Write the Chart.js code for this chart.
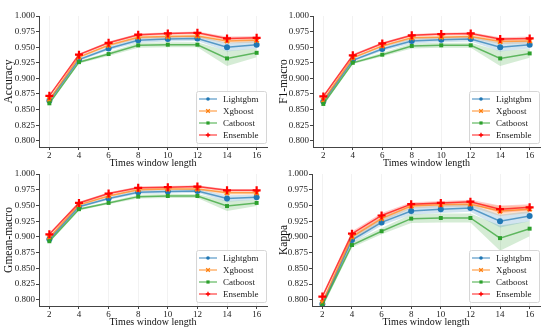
<!DOCTYPE html>
<html>
<head>
<meta charset="utf-8">
<script src="https://cdn.jsdelivr.net/npm/chart.js@4.4.1/dist/chart.umd.min.js"></script>
<style>
    body { margin: 0; background: #fff; }
    #wrap { position: relative; width: 550px; height: 331px; overflow: hidden; }
    canvas { position: absolute; }
</style>
</head>
<body>
<div id="wrap">
    <canvas id="accChart" width="275" height="169" style="left:0;top:0"></canvas>
    <canvas id="f1Chart" width="275" height="169" style="left:275px;top:0"></canvas>
    <canvas id="gmChart" width="275" height="166" style="left:0;top:165px"></canvas>
    <canvas id="kpChart" width="275" height="166" style="left:275px;top:165px"></canvas>
</div>
<script>
const windowLengths = [2, 4, 6, 8, 10, 12, 14, 16];
const modelNames = ["Lightgbm", "Xgboost", "Catboost", "Ensemble"];
const yTickValues = [0.800, 0.825, 0.850, 0.875, 0.900, 0.925, 0.950, 0.975, 1.000];

// Accuracy
const accLightgbm = [0.864, 0.930, 0.948, 0.961, 0.963, 0.964, 0.950, 0.954];
const accXgboost  = [0.866, 0.934, 0.953, 0.966, 0.967, 0.968, 0.960, 0.961];
const accCatboost = [0.860, 0.926, 0.939, 0.953, 0.954, 0.954, 0.932, 0.941];
const accEnsemble = [0.872, 0.938, 0.957, 0.970, 0.972, 0.973, 0.964, 0.965];
const accLightgbmCi = [0.002, 0.002, 0.003, 0.004, 0.004, 0.004, 0.007, 0.006];
const accXgboostCi  = [0.002, 0.002, 0.002, 0.003, 0.003, 0.003, 0.004, 0.004];
const accCatboostCi = [0.002, 0.002, 0.003, 0.004, 0.004, 0.004, 0.012, 0.007];
const accEnsembleCi = [0.002, 0.002, 0.002, 0.002, 0.002, 0.002, 0.003, 0.003];

// F1-macro
const f1Lightgbm = [0.863, 0.929, 0.947, 0.960, 0.962, 0.963, 0.950, 0.954];
const f1Xgboost  = [0.865, 0.933, 0.952, 0.965, 0.966, 0.967, 0.959, 0.960];
const f1Catboost = [0.859, 0.925, 0.938, 0.952, 0.953, 0.953, 0.932, 0.940];
const f1Ensemble = [0.871, 0.937, 0.956, 0.969, 0.971, 0.972, 0.963, 0.964];
const f1LightgbmCi = [0.002, 0.002, 0.003, 0.004, 0.004, 0.004, 0.007, 0.006];
const f1XgboostCi  = [0.002, 0.002, 0.002, 0.003, 0.003, 0.003, 0.004, 0.004];
const f1CatboostCi = [0.002, 0.002, 0.003, 0.004, 0.004, 0.004, 0.012, 0.007];
const f1EnsembleCi = [0.002, 0.002, 0.002, 0.002, 0.002, 0.002, 0.003, 0.003];

// Gmean-macro
const gmLightgbm = [0.896, 0.948, 0.961, 0.971, 0.972, 0.973, 0.961, 0.963];
const gmXgboost  = [0.899, 0.951, 0.965, 0.975, 0.976, 0.976, 0.970, 0.970];
const gmCatboost = [0.893, 0.944, 0.954, 0.964, 0.965, 0.965, 0.949, 0.954];
const gmEnsemble = [0.904, 0.954, 0.969, 0.978, 0.979, 0.980, 0.974, 0.974];
const gmLightgbmCi = [0.002, 0.002, 0.002, 0.003, 0.003, 0.003, 0.005, 0.004];
const gmXgboostCi  = [0.002, 0.002, 0.002, 0.002, 0.002, 0.002, 0.003, 0.003];
const gmCatboostCi = [0.002, 0.002, 0.002, 0.003, 0.003, 0.003, 0.008, 0.005];
const gmEnsembleCi = [0.002, 0.002, 0.002, 0.002, 0.002, 0.002, 0.002, 0.002];

// Kappa
const kpLightgbm = [0.793, 0.895, 0.923, 0.941, 0.944, 0.946, 0.925, 0.933];
const kpXgboost  = [0.796, 0.900, 0.929, 0.949, 0.951, 0.952, 0.941, 0.944];
const kpCatboost = [0.791, 0.887, 0.909, 0.929, 0.930, 0.930, 0.898, 0.913];
const kpEnsemble = [0.805, 0.905, 0.934, 0.952, 0.954, 0.956, 0.944, 0.947];
const kpLightgbmCi = [0.004, 0.005, 0.005, 0.006, 0.006, 0.006, 0.010, 0.008];
const kpXgboostCi  = [0.004, 0.005, 0.005, 0.004, 0.004, 0.004, 0.008, 0.006];
const kpCatboostCi = [0.004, 0.004, 0.005, 0.007, 0.007, 0.007, 0.020, 0.012];
const kpEnsembleCi = [0.003, 0.004, 0.004, 0.003, 0.003, 0.003, 0.006, 0.005];

const modelColors = ["31,119,180", "255,127,14", "44,160,44", "255,0,0"];
const modelMarkers = ["circle", "crossRot", "rect", "cross"];
const markerRadius = [3, 3, 2.8, 4];
const markerBorder = [0, 2, 0, 2.2];

const serif = "'Liberation Serif', 'Times New Roman', serif";

function makeDatasets(means, cis) {
    var sets = [];
    // confidence bands: upper filled down to lower
    for (var i = 0; i < means.length; i++) {
        var upper = [], lower = [];
        for (var j = 0; j < windowLengths.length; j++) {
            upper.push({ x: windowLengths[j], y: means[i][j] + cis[i][j] });
            lower.push({ x: windowLengths[j], y: means[i][j] - cis[i][j] });
        }
        sets.push({ data: upper, borderWidth: 0, borderColor: "rgba(0,0,0,0)", pointRadius: 0,
                    fill: "+1", backgroundColor: "rgba(" + modelColors[i] + ",0.2)", order: 20 });
        sets.push({ data: lower, borderWidth: 0, borderColor: "rgba(0,0,0,0)", pointRadius: 0,
                    fill: false, order: 20 });
    }
    for (var i = 0; i < means.length; i++) {
        var pts = [];
        for (var j = 0; j < windowLengths.length; j++) {
            pts.push({ x: windowLengths[j], y: means[i][j] });
        }
        sets.push({
            label: modelNames[i],
            data: pts,
            borderColor: "rgba(" + modelColors[i] + ",0.7)",
            borderWidth: 1.5,
            fill: false,
            pointStyle: modelMarkers[i],
            pointRadius: markerRadius[i],
            pointBorderWidth: markerBorder[i],
            pointBackgroundColor: "rgb(" + modelColors[i] + ")",
            pointBorderColor: "rgb(" + modelColors[i] + ")",
            order: 3 - i
        });
    }
    return sets;
}

const insideLegend = {
    id: "insideLegend",
    afterDraw(chart) {
        var ctx = chart.ctx, area = chart.chartArea;
        var w = 70, h = 52;
        var x0 = area.right - 1 - w, y0 = area.bottom - 4 - h;
        ctx.save();
        ctx.beginPath();
        if (ctx.roundRect) ctx.roundRect(x0 + 0.5, y0 + 0.5, w, h, 2);
        else ctx.rect(x0 + 0.5, y0 + 0.5, w, h);
        ctx.fillStyle = "rgba(255,255,255,0.85)";
        ctx.fill();
        ctx.strokeStyle = "#d6d6d6";
        ctx.lineWidth = 1;
        ctx.stroke();
        ctx.font = "9px " + serif;
        ctx.textBaseline = "middle";
        for (var i = 0; i < modelNames.length; i++) {
            var y = y0 + 8 + i * 12;
            ctx.strokeStyle = "rgba(" + modelColors[i] + ",0.6)";
            ctx.lineWidth = 1.5;
            ctx.beginPath();
            ctx.moveTo(x0 + 3, y);
            ctx.lineTo(x0 + 21, y);
            ctx.stroke();
            var cx = x0 + 12;
            ctx.fillStyle = "rgb(" + modelColors[i] + ")";
            ctx.strokeStyle = "rgb(" + modelColors[i] + ")";
            ctx.beginPath();
            if (i == 0) {
                ctx.arc(cx, y, 1.8, 0, Math.PI * 2);
                ctx.fill();
            } else if (i == 1) {
                ctx.lineWidth = 1.3;
                ctx.moveTo(cx - 1.8, y - 1.8); ctx.lineTo(cx + 1.8, y + 1.8);
                ctx.moveTo(cx - 1.8, y + 1.8); ctx.lineTo(cx + 1.8, y - 1.8);
                ctx.stroke();
            } else if (i == 2) {
                ctx.fillRect(cx - 1.6, y - 1.6, 3.2, 3.2);
            } else {
                ctx.lineWidth = 1.3;
                ctx.moveTo(cx - 2.2, y); ctx.lineTo(cx + 2.2, y);
                ctx.moveTo(cx, y - 2.2); ctx.lineTo(cx, y + 2.2);
                ctx.stroke();
            }
            ctx.fillStyle = "#222";
            ctx.fillText(modelNames[i], x0 + 27, y + 0.5);
        }
        ctx.restore();
    }
};

function drawPanel(canvasId, yTitle, means, cis, pad, yWidth) {
    return new Chart(canvasId, {
        type: "line",
        data: { datasets: makeDatasets(means, cis) },
        plugins: [insideLegend],
        options: {
            responsive: false,
            animation: false,
            layout: { padding: pad },
            plugins: {
                legend: { display: false },
                tooltip: { enabled: false },
                filler: { drawTime: "beforeDatasetsDraw" }
            },
            scales: {
                x: {
                    type: "linear",
                    min: 1.3,
                    max: 16.7,
                    afterBuildTicks: function (scale) {
                        scale.ticks = windowLengths.map(function (v) { return { value: v }; });
                    },
                    afterFit: function (scale) { scale.height = 22; },
                    grid: { color: "#f2f2f2", tickColor: "#444", tickLength: 3 },
                    border: { color: "#444", width: 1 },
                    ticks: {
                        padding: 0,
                        color: "#222",
                        font: { family: serif, size: 9 },
                        maxRotation: 0,
                        callback: function (v) { return v; }
                    },
                    title: {
                        display: true,
                        text: "Times window length",
                        color: "#111",
                        padding: { top: 0, bottom: 0 },
                        font: { family: serif, size: 10 }
                    }
                },
                y: {
                    min: 0.79,
                    max: 1.0,
                    afterBuildTicks: function (scale) {
                        scale.ticks = yTickValues.map(function (v) { return { value: v }; });
                    },
                    afterFit: function (scale) { scale.width = yWidth; },
                    grid: { color: "rgba(0,0,0,0)", tickColor: "#444", tickLength: 3 },
                    border: { color: "#444", width: 1 },
                    ticks: {
                        padding: 1,
                        color: "#222",
                        font: { family: serif, size: 9 },
                        callback: function (v) { return v.toFixed(3); }
                    },
                    title: {
                        display: true,
                        text: yTitle,
                        color: "#111",
                        padding: { top: 2, bottom: 0 },
                        font: { family: serif, size: 11.5 }
                    }
                }
            }
        }
    });
}

drawPanel("accChart", "Accuracy",
    [accLightgbm, accXgboost, accCatboost, accEnsemble],
    [accLightgbmCi, accXgboostCi, accCatboostCi, accEnsembleCi],
    { top: 16, right: 8, bottom: 0, left: 0 }, 39);

drawPanel("f1Chart", "F1-macro",
    [f1Lightgbm, f1Xgboost, f1Catboost, f1Ensemble],
    [f1LightgbmCi, f1XgboostCi, f1CatboostCi, f1EnsembleCi],
    { top: 16, right: 10, bottom: 0, left: 0 }, 38);

drawPanel("gmChart", "Gmean-macro",
    [gmLightgbm, gmXgboost, gmCatboost, gmEnsemble],
    [gmLightgbmCi, gmXgboostCi, gmCatboostCi, gmEnsembleCi],
    { top: 9, right: 8, bottom: 3, left: 0 }, 39);

drawPanel("kpChart", "Kappa",
    [kpLightgbm, kpXgboost, kpCatboost, kpEnsemble],
    [kpLightgbmCi, kpXgboostCi, kpCatboostCi, kpEnsembleCi],
    { top: 9, right: 10, bottom: 3, left: 0 }, 37);
</script>
</body>
</html>
